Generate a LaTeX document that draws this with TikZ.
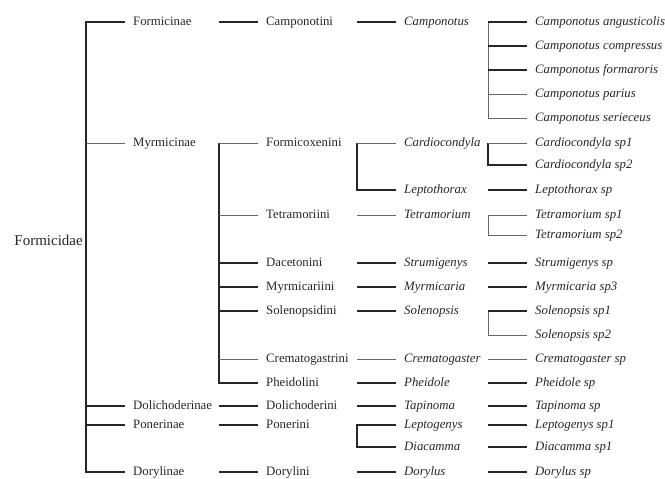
\documentclass[tikz,border=0pt]{standalone}
\usepackage{fontspec}
\setmainfont{Liberation Serif}
\tikzset{
  thk/.style={line width=1.8pt, black!85},
  thn/.style={line width=0.9pt, black!60},
  lbl/.style={anchor=west, inner sep=0pt, text height=8.5pt, text depth=2.5pt, text=black!85, font=\fontsize{12.8}{14}\selectfont},
  itl/.style={lbl, font=\fontsize{12.8}{14}\selectfont\itshape}
}
\begin{document}
\begin{tikzpicture}[x=1pt,y=-1pt]
\useasboundingbox (0,0) rectangle (665,479);
\node [lbl, anchor=east, font=\fontsize{15}{17}\selectfont] (formicidae) at (83,242) {Formicidae};
\node [lbl] (formicinae) at (133,22) {Formicinae};
\node [lbl] (myrmicinae) at (133,143) {Myrmicinae};
\node [lbl] (dolichoderinae) at (133,406) {Dolichoderinae};
\node [lbl] (ponerinae) at (133,425) {Ponerinae};
\node [lbl] (dorylinae) at (133,472) {Dorylinae};
\node [lbl] (camponotini) at (266,22) {Camponotini};
\node [lbl] (formicoxenini) at (266,143) {Formicoxenini};
\node [lbl] (tetramoriini) at (266,215) {Tetramoriini};
\node [lbl] (dacetonini) at (266,263) {Dacetonini};
\node [lbl] (myrmicariini) at (266,287) {Myrmicariini};
\node [lbl] (solenopsidini) at (266,311) {Solenopsidini};
\node [lbl] (crematogastrini) at (266,359) {Crematogastrini};
\node [lbl] (pheidolini) at (266,383) {Pheidolini};
\node [lbl] (dolichoderini) at (266,406) {Dolichoderini};
\node [lbl] (ponerini) at (266,425) {Ponerini};
\node [lbl] (dorylini) at (266,472) {Dorylini};
\node [itl] (camponotus) at (404,22) {Camponotus};
\node [itl] (cardiocondyla) at (404,143) {Cardiocondyla};
\node [itl] (leptothorax) at (404,190) {Leptothorax};
\node [itl] (tetramorium) at (404,215) {Tetramorium};
\node [itl] (strumigenys) at (404,263) {Strumigenys};
\node [itl] (myrmicaria) at (404,287) {Myrmicaria};
\node [itl] (solenopsis) at (404,311) {Solenopsis};
\node [itl] (crematogaster) at (404,359) {Crematogaster};
\node [itl] (pheidole) at (404,383) {Pheidole};
\node [itl] (tapinoma) at (404,406) {Tapinoma};
\node [itl] (leptogenys) at (404,425) {Leptogenys};
\node [itl] (diacamma) at (404,447) {Diacamma};
\node [itl] (dorylus) at (404,472) {Dorylus};
\node [itl] (campang) at (535,22) {Camponotus angusticolis};
\node [itl] (campcomp) at (535,46) {Camponotus compressus};
\node [itl] (campform) at (535,70) {Camponotus formaroris};
\node [itl] (camppari) at (535,94) {Camponotus parius};
\node [itl] (campseri) at (535,118) {Camponotus serieceus};
\node [itl] (cardspa) at (535,143) {Cardiocondyla sp1};
\node [itl] (cardspb) at (535,165) {Cardiocondyla sp2};
\node [itl] (leptsp) at (535,190) {Leptothorax sp};
\node [itl] (tetrspa) at (535,215) {Tetramorium sp1};
\node [itl] (tetrspb) at (535,235) {Tetramorium sp2};
\node [itl] (strusp) at (535,263) {Strumigenys sp};
\node [itl] (myrmspc) at (535,287) {Myrmicaria sp3};
\node [itl] (solespa) at (535,311) {Solenopsis sp1};
\node [itl] (solespb) at (535,335) {Solenopsis sp2};
\node [itl] (cremsp) at (535,359) {Crematogaster sp};
\node [itl] (pheisp) at (535,383) {Pheidole sp};
\node [itl] (tapisp) at (535,406) {Tapinoma sp};
\node [itl] (lpgnspa) at (535,425) {Leptogenys sp1};
\node [itl] (diacspa) at (535,447) {Diacamma sp1};
\node [itl] (dorysp) at (535,472) {Dorylus sp};
\draw [thk] ([xshift=-8]formicinae.west) -| ([xshift=-47]dorylinae.west) -- ([xshift=-8]dorylinae.west);
\draw [thn] ([xshift=-8]myrmicinae.west) -- ([xshift=-47]myrmicinae.west);
\draw [thk] ([xshift=-8]dolichoderinae.west) -- ([xshift=-47]dolichoderinae.west);
\draw [thk] ([xshift=-8]ponerinae.west) -- ([xshift=-47]ponerinae.west);
\draw [thk] ([xshift=-8]camponotini.west) -- ([xshift=-47]camponotini.west);
\draw [thk] ([xshift=-47]formicoxenini.west) -- ([xshift=-47]pheidolini.west) -- ([xshift=-8]pheidolini.west);
\draw [thn] ([xshift=-8]formicoxenini.west) -- ([xshift=-47]formicoxenini.west);
\draw [thn] ([xshift=-8]tetramoriini.west) -- ([xshift=-47]tetramoriini.west);
\draw [thk] ([xshift=-8]dacetonini.west) -- ([xshift=-47]dacetonini.west);
\draw [thk] ([xshift=-8]myrmicariini.west) -- ([xshift=-47]myrmicariini.west);
\draw [thk] ([xshift=-8]solenopsidini.west) -- ([xshift=-47]solenopsidini.west);
\draw [thn] ([xshift=-8]crematogastrini.west) -- ([xshift=-47]crematogastrini.west);
\draw [thk] ([xshift=-8]dolichoderini.west) -- ([xshift=-47]dolichoderini.west);
\draw [thk] ([xshift=-8]ponerini.west) -- ([xshift=-47]ponerini.west);
\draw [thk] ([xshift=-8]dorylini.west) -- ([xshift=-47]dorylini.west);
\draw [thk] ([xshift=-8]camponotus.west) -- ([xshift=-47]camponotus.west);
\draw [thk] ([xshift=-47]cardiocondyla.west) -- ([xshift=-47]leptothorax.west) -- ([xshift=-8]leptothorax.west);
\draw [thn] ([xshift=-8]cardiocondyla.west) -- ([xshift=-47]cardiocondyla.west);
\draw [thn] ([xshift=-8]tetramorium.west) -- ([xshift=-47]tetramorium.west);
\draw [thk] ([xshift=-8]strumigenys.west) -- ([xshift=-47]strumigenys.west);
\draw [thk] ([xshift=-8]myrmicaria.west) -- ([xshift=-47]myrmicaria.west);
\draw [thk] ([xshift=-8]solenopsis.west) -- ([xshift=-47]solenopsis.west);
\draw [thn] ([xshift=-8]crematogaster.west) -- ([xshift=-47]crematogaster.west);
\draw [thk] ([xshift=-8]pheidole.west) -- ([xshift=-47]pheidole.west);
\draw [thk] ([xshift=-8]tapinoma.west) -- ([xshift=-47]tapinoma.west);
\draw [thk] ([xshift=-8]leptogenys.west) -| ([xshift=-47]diacamma.west) -- ([xshift=-8]diacamma.west);
\draw [thk] ([xshift=-8]dorylus.west) -- ([xshift=-47]dorylus.west);
\draw [thn] ([xshift=-47]campang.west) -- ([xshift=-47]campseri.west) -- ([xshift=-8]campseri.west);
\draw [thk] ([xshift=-8]campang.west) -- ([xshift=-47]campang.west);
\draw [thk] ([xshift=-8]campcomp.west) -- ([xshift=-47]campcomp.west);
\draw [thk] ([xshift=-8]campform.west) -- ([xshift=-47]campform.west);
\draw [thn] ([xshift=-8]camppari.west) -- ([xshift=-47]camppari.west);
\draw [thk] ([xshift=-47]cardspa.west) -- ([xshift=-47]cardspb.west) -- ([xshift=-8]cardspb.west);
\draw [thn] ([xshift=-8]cardspa.west) -- ([xshift=-47]cardspa.west);
\draw [thk] ([xshift=-8]leptsp.west) -- ([xshift=-47]leptsp.west);
\draw [thn] ([xshift=-8]tetrspa.west) -| ([xshift=-47]tetrspb.west) -- ([xshift=-8]tetrspb.west);
\draw [thk] ([xshift=-8]strusp.west) -- ([xshift=-47]strusp.west);
\draw [thk] ([xshift=-8]myrmspc.west) -- ([xshift=-47]myrmspc.west);
\draw [thn] ([xshift=-47]solespa.west) -- ([xshift=-47]solespb.west) -- ([xshift=-8]solespb.west);
\draw [thk] ([xshift=-8]solespa.west) -- ([xshift=-47]solespa.west);
\draw [thn] ([xshift=-8]cremsp.west) -- ([xshift=-47]cremsp.west);
\draw [thk] ([xshift=-8]pheisp.west) -- ([xshift=-47]pheisp.west);
\draw [thk] ([xshift=-8]tapisp.west) -- ([xshift=-47]tapisp.west);
\draw [thk] ([xshift=-8]lpgnspa.west) -- ([xshift=-47]lpgnspa.west);
\draw [thk] ([xshift=-8]diacspa.west) -- ([xshift=-47]diacspa.west);
\draw [thk] ([xshift=-8]dorysp.west) -- ([xshift=-47]dorysp.west);
\end{tikzpicture}
\end{document}
